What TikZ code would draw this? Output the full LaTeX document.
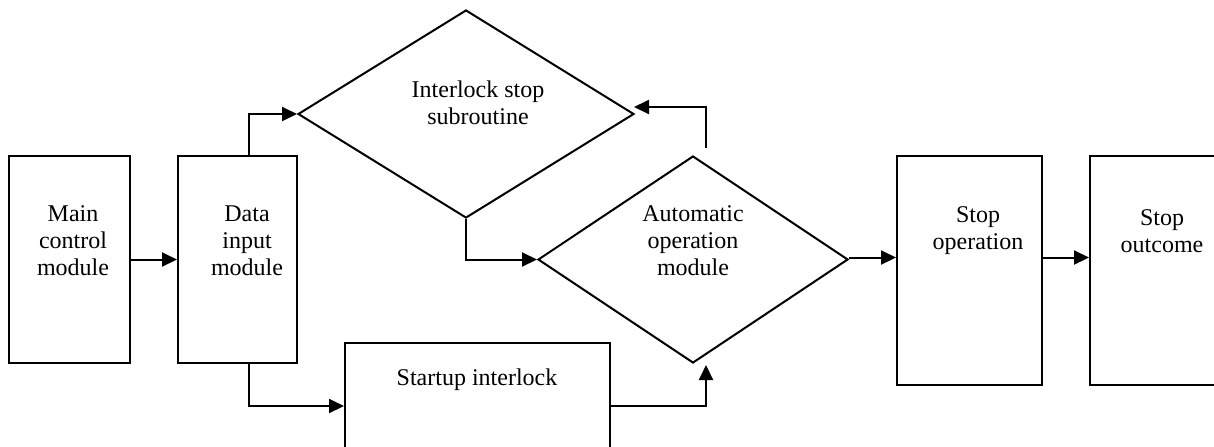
\documentclass[tikz,border=0pt]{standalone}
\usepackage{fontspec}
\setmainfont{Liberation Serif}
\usetikzlibrary{arrows.meta, positioning, shapes.geometric, calc}

\begin{document}
\begin{tikzpicture}[
  x=0.5pt, y=-0.5pt,
  every node/.style={font=\fontsize{12}{13.5}\selectfont},
  block/.style={rectangle, draw, line width=1pt, inner sep=0pt},
  decision/.style={diamond, draw, line width=1pt, inner sep=0pt},
  caption/.style={align=center, inner sep=0pt},
  flow/.style={-{Triangle[length=7.5pt, width=7pt]}, line width=1pt},
]
\clip (0,0) rectangle (1214,446);

% Boxes and decisions
\node[block, minimum width=60.5pt, minimum height=103.5pt] (main) at (69.5,259.5) {};
\node[block, minimum width=59.5pt, minimum height=103.5pt] (data) at (237.5,259.5) {};
\node[decision, minimum width=168pt, minimum height=104pt] (stopsub) at (466,114) {};
\node[decision, minimum width=155pt, minimum height=103.5pt] (auto) at (693,259.5) {};
\node[block, minimum width=132.5pt, minimum height=63pt] (startup) at (477.5,406) {};
\node[block, minimum width=72.5pt, minimum height=114.5pt] (stopop) at (969.5,270.5) {};
\node[block, minimum width=75pt, minimum height=114.5pt] (stopout) at (1165,270.5) {};

% Texts
\node[caption] (main-t) at (73,241) {Main\\control\\module};
\node[caption] (data-t) at (247,241) {Data\\input\\module};
\node[caption] (stopsub-t) at (478,103) {Interlock stop\\subroutine};
\node[caption] (auto-t) at (693,241) {Automatic\\operation\\module};
\node[caption] (startup-t) at (477,380) {Startup interlock};
\node[caption] (stopop-t) at (978,231) {Stop\\operation};
\node[caption] (stopout-t) at (1162,231) {Stop\\outcome};

% Free ends
\coordinate (a-out) at (706,148);
\coordinate (s-in) at (634,107);
\coordinate (a-in) at (706,365);

% Connectors
\draw[flow] (main.east) -- (data.west);
\draw[flow] ([xshift=5.75pt]data.north) |- (stopsub.west);
\draw[flow] ([xshift=5.75pt]data.south) |- (startup.west);
\draw[flow] (stopsub.south) |- (auto.west);
\draw[flow] (startup.east) -| (a-in);
\draw[flow] (a-out) |- (s-in);
\draw[flow] ([yshift=1pt]auto.east) -- ([yshift=1pt]auto.east -| stopop.west);
\draw[flow] ([yshift=1pt]stopop.east |- auto.east) -- ([yshift=1pt]stopout.west |- auto.east);

\end{tikzpicture}
\end{document}
